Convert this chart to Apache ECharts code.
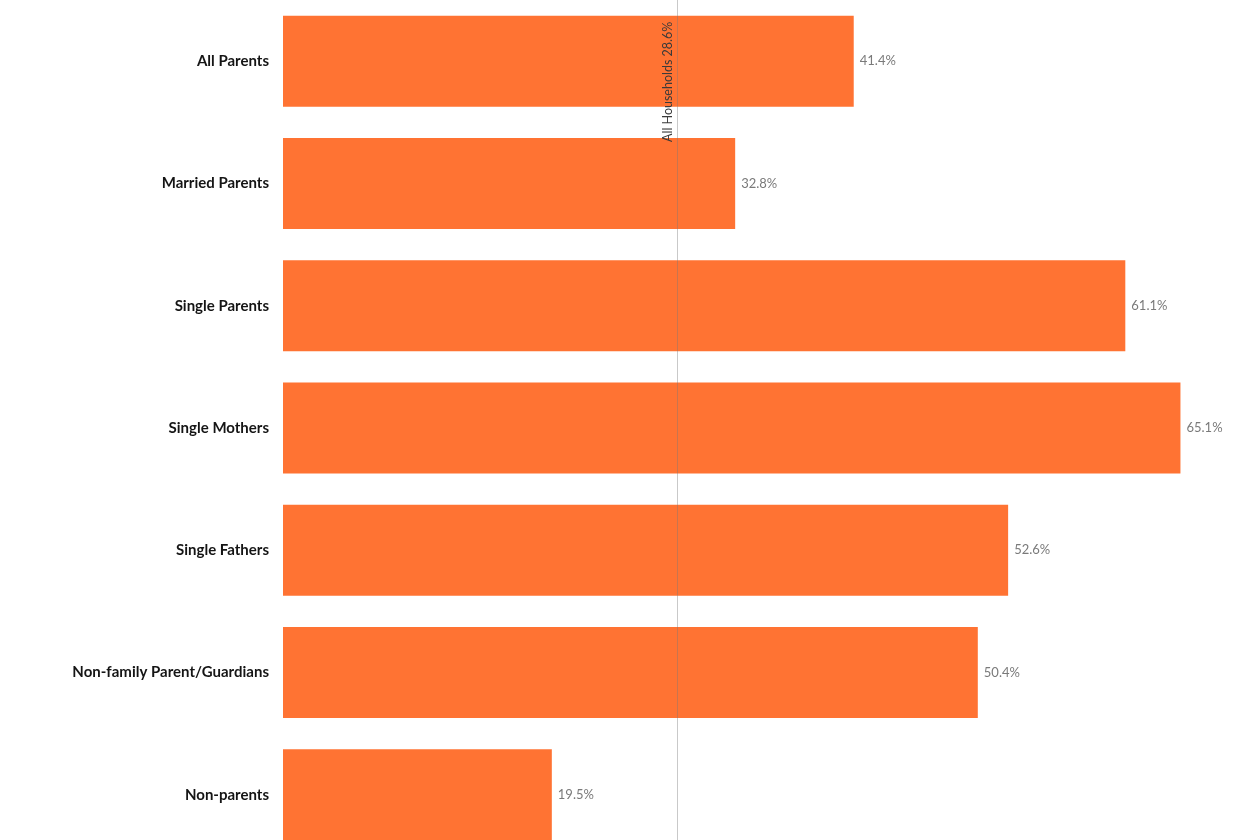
<!DOCTYPE html>
<html>
<head>
<meta charset="utf-8">
<title>Share by household type</title>
<script src="https://cdn.jsdelivr.net/npm/echarts@6/dist/echarts.min.js"></script>
<style>
  html, body { margin: 0; padding: 0; background: #ffffff; overflow: hidden; }
  #chart { width: 1248px; height: 856px; }
</style>
</head>
<body>
<div id="chart"></div>
<script>
// Household groups, top to bottom
const categories = [
  'All Parents',
  'Married Parents',
  'Single Parents',
  'Single Mothers',
  'Single Fathers',
  'Non-family Parent/Guardians',
  'Non-parents'
];
// Share of each group, in percent
const values = [41.4, 32.8, 61.1, 65.1, 52.6, 50.4, 19.5];
// Reference line: all households
const referenceValue = 28.6;
const referenceLabel = 'All Households 28.6%';

const chart = echarts.init(document.getElementById('chart'));

chart.setOption({
  animation: false,
  backgroundColor: '#ffffff',
  grid: { left: 283, right: 0, top: 0, bottom: 0, containLabel: false },
  xAxis: {
    type: 'value',
    min: 0,
    max: 70,
    show: false
  },
  yAxis: {
    type: 'category',
    data: categories,
    inverse: true,
    axisLine: { show: false },
    axisTick: { show: false },
    axisLabel: {
      margin: 14,
      color: '#151515',
      fontFamily: 'Lato, "Open Sans", sans-serif',
      fontWeight: 'bold',
      fontSize: 15
    }
  },
  series: [{
    type: 'bar',
    data: values,
    barWidth: 91,
    itemStyle: { color: '#ff7333' },
    label: {
      show: true,
      position: 'right',
      distance: 6,
      color: '#7a7a7a',
      fontFamily: 'Lato, "Open Sans", sans-serif',
      fontSize: 13,
      formatter: p => p.value.toFixed(1) + '%'
    },
    markLine: {
      silent: true,
      symbol: 'none',
      z: 10,
      lineStyle: { color: 'rgba(120,120,120,0.4)', width: 1, type: 'solid' },
      label: { show: false },
      data: [{ xAxis: referenceValue }]
    }
  }]
});

// Rotated caption beside the reference line, reading upward from its base
const lineX = chart.convertToPixel({ xAxisIndex: 0 }, referenceValue);
chart.setOption({
  graphic: [{
    type: 'text',
    x: lineX - 3,
    y: 142,
    rotation: Math.PI / 2,
    z: 20,
    style: {
      text: referenceLabel,
      fill: '#3a3a3a',
      font: '12.5px Lato, "Open Sans", sans-serif',
      align: 'left',
      verticalAlign: 'bottom'
    }
  }]
});
</script>
</body>
</html>
